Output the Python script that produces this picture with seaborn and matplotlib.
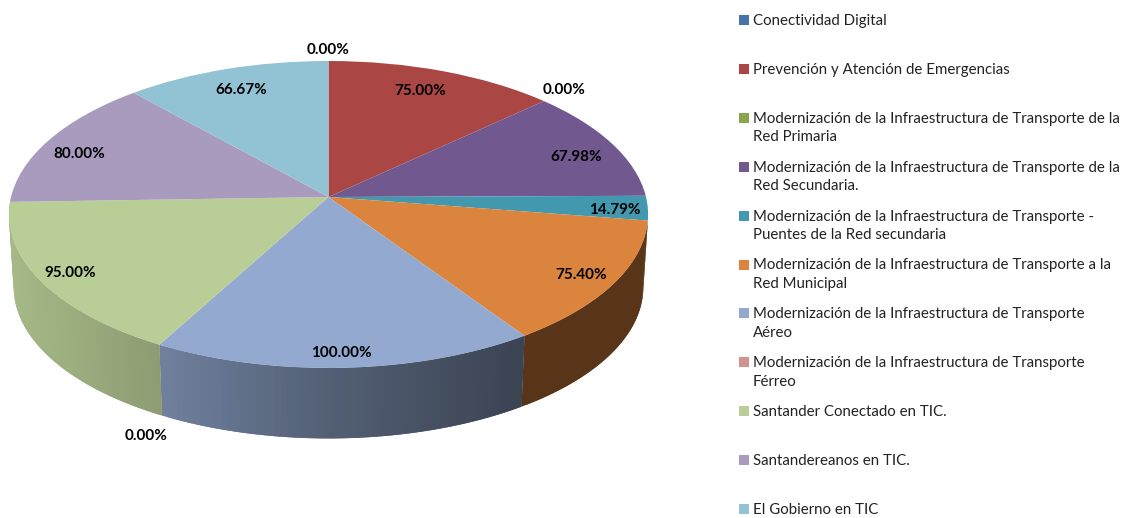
import matplotlib
matplotlib.use('Agg')
import matplotlib.pyplot as plt
import matplotlib.transforms as mtransforms
import seaborn as sns
import numpy as np

categories = [
    "Conectividad Digital",
    "Prevención y Atención de Emergencias",
    "Modernización de la Infraestructura de Transporte de la\nRed Primaria",
    "Modernización de la Infraestructura de Transporte de la\nRed Secundaria.",
    "Modernización de la Infraestructura de Transporte -\nPuentes de la Red secundaria",
    "Modernización de la Infraestructura de Transporte a la\nRed Municipal",
    "Modernización de la Infraestructura de Transporte\nAéreo",
    "Modernización de la Infraestructura de Transporte\nFérreo",
    "Santander Conectado en TIC.",
    "Santandereanos en TIC.",
    "El Gobierno en TIC",
]
values = [0, 75.00, 0, 67.98, 14.79, 75.40, 100.00, 0, 95.00, 80.00, 66.67]
colors = ["#4572A7", "#AA4643", "#89A54E", "#71588F", "#4198AF", "#DB843D",
          "#93A9CF", "#D19392", "#B9CD96", "#A99BBD", "#91C3D5"]

sns.set_theme(style="white")
plt.rcParams["font.family"] = ["Lato", "DejaVu Sans"]

# pie geometry in pixels, the tilt is a simple perspective
CX, CY = 328.5, 197
RX, RY = 317.5, 151.5
TILT = 0.114
DEPTH = 73
BOTTOM_SCALE = 0.985


def project(u, v, scale=1.0, drop=0.0):
    w = 1 + TILT * np.asarray(v)
    return CX + scale * RX * np.asarray(u) / w, CY + drop - scale * RY * np.asarray(v) / w


class Tilt(mtransforms.Transform):
    input_dims = 2
    output_dims = 2

    def transform_non_affine(self, xy):
        x, y = project(xy[:, 0], xy[:, 1])
        return np.column_stack([x, y])


def wall_shade(x):
    return np.interp(x - CX, [-320, -170, 0, 190, 320], [0.9, 0.76, 0.56, 0.40, 0.40])


fig, ax = plt.subplots(figsize=(11.24, 5.18), dpi=100)
fig.subplots_adjust(0, 0, 1, 1)

wedges, _ = ax.pie(values, colors=sns.color_palette(colors), startangle=90, counterclock=False,
                   wedgeprops={"linewidth": 0})
ax.set_aspect("auto")
ax.set_xlim(0, 1124)
ax.set_ylim(518, 0)

# side wall of the cake, overlapping strips so it can shade left to right without seams
for wedge, color in zip(wedges, colors):
    wedge.set_transform(Tilt() + ax.transData)
    wedge.set_zorder(3)
    if wedge.theta2 - wedge.theta1 <= 0:
        continue
    if np.sin(np.radians((wedge.theta1 + wedge.theta2) / 2)) > -0.2:
        continue
    angles = np.radians(np.arange(wedge.theta1, wedge.theta2, 1.0))
    end = np.radians(wedge.theta2)
    rgb = np.array(matplotlib.colors.to_rgb(color))
    for a in angles[::-1]:
        if np.sin(a) >= 0:
            continue
        pair = np.array([a, min(end, a + np.radians(2.0))])
        xt, yt = project(np.cos(pair), np.sin(pair))
        xb, yb = project(np.cos(pair), np.sin(pair), BOTTOM_SCALE, DEPTH)
        shade = wall_shade(xt.mean()) * rgb
        ax.fill([xt[0], xt[1], xb[1], xb[0]], [yt[0], yt[1], yb[1], yb[0]],
                color=shade, linewidth=0, zorder=2)

# data labels, radius as a share of the pie radius plus a small nudge in pixels
label_radius = [1.11, 0.85, 1.09, 0.87, 0.89, 0.89, 0.915, 1.10, 0.89, 0.87, 0.85]
nudge_x = [0, -7, 2, 0, 2, 0, -2, 6, -4, -5, 1]
nudge_y = [2, 2, -3, 7, 3, 2, 1, 2, 1, 7, 3]
for wedge, value, r, nx, ny in zip(wedges, values, label_radius, nudge_x, nudge_y):
    mid = np.radians((wedge.theta1 + wedge.theta2) / 2)
    u, v = r * np.cos(mid), r * np.sin(mid)
    drop = DEPTH if (r > 1 and v < 0) else 0
    x, y = project(u, v, drop=drop)
    ax.text(x + nx, y + ny, f"{value:.2f}%", ha="center", va="center", fontsize=11,
            fontweight="bold", color="black", zorder=5)

# legend by hand, every entry has the same slot and the first line lines up with the square
for i, (name, color) in enumerate(zip(categories, colors)):
    y = 20 + 48.9 * i
    ax.scatter([744], [y], marker="s", s=50, color=color, linewidths=0, zorder=5)
    ax.text(753, y - 6, name, ha="left", va="top", fontsize=10.85, linespacing=1.42,
            color="#222222", zorder=5)

fig.savefig("out.png", dpi=100)
plt.close(fig)
